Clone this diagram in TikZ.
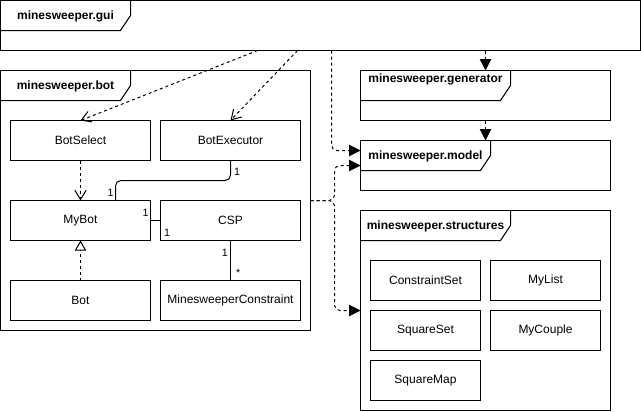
\documentclass[tikz,border=0pt]{standalone}
\usepackage{fontspec}
\setmainfont{Liberation Sans}
\usetikzlibrary{arrows.meta, positioning, calc}

\begin{document}
\begin{tikzpicture}[x=0.75pt, y=-0.75pt, line width=0.75pt, font=\fontsize{9}{11}\selectfont, node distance=7.5pt]
	\tikzstyle{pkg}=[draw, anchor=north west, inner sep=0pt, outer sep=0pt, minimum width=187.5pt, minimum height=37.5pt]
	\tikzstyle{cls}=[draw, inner sep=0pt, outer sep=0pt, minimum width=105pt, minimum height=30pt]
	\tikzstyle{smallcls}=[cls, minimum width=82.5pt]
	\tikzstyle{dep}=[dash pattern=on 2.25pt off 2.25pt]
	\tikzstyle{mult}=[inner sep=0pt, font=\fontsize{8}{9}\selectfont]
	\tikzstyle{uses}=[dep, -{Triangle[length=8.5pt, width=8.5pt]}, rounded corners=4pt]
	\tikzstyle{calls}=[dep, -{Straight Barb[length=7pt, width=8.5pt]}]
	
	\useasboundingbox (-0.5,-0.5) rectangle (640.5,410.5);
	
	% packages
	\node[pkg, minimum width=480pt] (gui) at (0,0) {};
	\node[pkg, minimum width=232.5pt, minimum height=195pt] (bot) at (0,70) {};
	\node[pkg] (gen) at (360,70) {};
	\node[pkg] (model) at (360,140) {};
	\node[pkg, minimum height=150pt] (struct) at (360,210) {};
	
	\foreach \p/\w/\dy/\t in {gui/130/16/minesweeper.gui, bot/130/16/minesweeper.bot, gen/150/9/minesweeper.generator, model/130/16/minesweeper.model, struct/150/16/minesweeper.structures}{
		\draw ($(\p.north west)+(0,30)$) -- ++(\w-10,0) -- ++(10,-15) -- ++(0,-15);
		\node[font=\bfseries\fontsize{9}{11}\selectfont] (\p-title) at ($(\p.north west)+(\w/2,\dy)$) {\t};
	}
	
	% classes of the bot
	\node[cls, anchor=north west] (botsel) at (10,120) {BotSelect};
	\node[cls, right=of botsel] (botexec) {BotExecutor};
	\node[cls, below=30pt of botsel] (mybot) {MyBot};
	\node[cls, right=of mybot] (csp) {CSP};
	\node[cls, below=30pt of mybot] (botcls) {Bot};
	\node[cls, right=of botcls] (msc) {MinesweeperConstraint};
	
	% classes of the structures
	\node[smallcls, anchor=north west] (cset) at (370,260) {ConstraintSet};
	\node[smallcls, right=of cset] (mylist) {MyList};
	\node[smallcls, below=of cset] (sqset) {SquareSet};
	\node[smallcls, right=of sqset] (mycouple) {MyCouple};
	\node[smallcls, below=of sqset] (sqmap) {SquareMap};
	
	% dependencies between packages
	\draw[calls] ($(gui.south west)+(257,0)$) -- (botsel.north);
	\draw[calls] ($(gui.south west)+(297,0)$) -- (botexec.north);
	\draw[uses] ($(gui.south west)+(331,0)$) |- ($(model.north west)+(0,10)$);
	\draw[uses] (gen.north |- gui.south) -- (gen.north);
	\draw[uses] (gen.south) -- (model.north);
	\draw[uses] (bot.east) -- ++(24,0) |- ($(model.north west)+(0,25)$);
	\draw[uses] (bot.east) -- ++(24,0) |- (struct.west);
	
	% relations inside the bot
	\draw[calls] (botsel) -- (mybot);
	\draw[dep, -{Triangle[open, fill=white, length=7.5pt, width=8.5pt]}] (botcls) -- (mybot);
	\draw[rounded corners=4pt] (botexec.south) -- ++(0,20) -| ($(mybot.north west)+(105,0)$);
	\draw (mybot) -- (csp);
	\draw (csp) -- (msc);
	
	\node[mult] (m-exec) at ($(botexec.south)+(6.7,11)$) {1};
	\node[mult] (m-mybot-top) at ($(mybot.north west)+(100,-8)$) {1};
	\node[mult] (m-mybot-csp) at ($(mybot.north east)+(-5,12)$) {1};
	\node[mult] (m-csp-mybot) at ($(csp.south west)+(6.7,-8)$) {1};
	\node[mult] (m-csp-msc) at ($(csp.south)+(-5.7,12)$) {1};
	\node[mult] (m-msc) at ($(msc.north)+(7.7,-8)$) {*};
\end{tikzpicture}
\end{document}
